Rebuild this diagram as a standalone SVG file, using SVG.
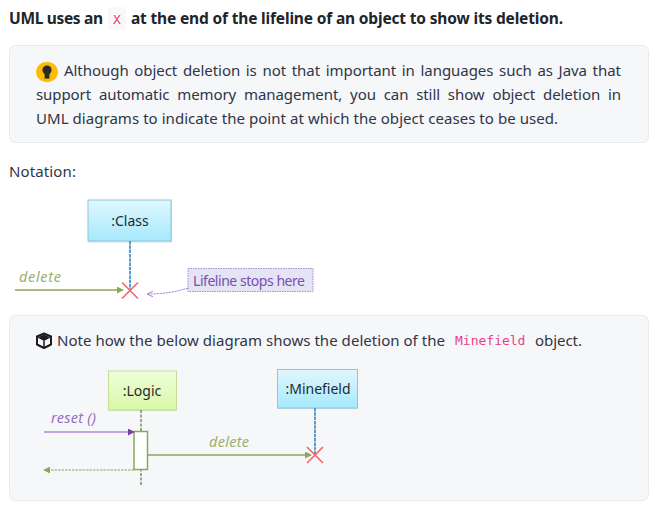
<svg xmlns="http://www.w3.org/2000/svg" width="665" height="520" viewBox="0 0 665 520">
<style>
text{font-family:"Noto Sans","Open Sans","Liberation Sans",sans-serif;font-size:15px;fill:#212529}
.b{font-size:15.5px;font-weight:700;fill:#212529}
.p{fill:#2f3547}
.code{font-family:"DejaVu Sans Mono","Liberation Mono",monospace;font-size:13px;fill:#e83e8c}
.panel{fill:#f6f7f9;stroke:#e8eaee;stroke-width:1}
.lbl{font-size:14px;fill:#1f2a33}
.msg{font-size:14.500px;font-style:italic}
.g{fill:#9bb06a}
.life{fill:none;stroke:#4a90c8;stroke-width:1.800;stroke-dasharray:3.500 .8}
.x{stroke:#f8666c;stroke-width:1.700;fill:none}
.gl{stroke:#8ea65a;stroke-width:1.300;fill:none}
.shadow{fill:#6f8f9f;opacity:.28}
</style>
<defs>
<linearGradient id="blue" x1="0" y1="0" x2="0" y2="1"><stop offset="0" stop-color="#e0f7ff"/><stop offset="1" stop-color="#a6e9fc"/></linearGradient>
<linearGradient id="green" x1="0" y1="0" x2="0" y2="1"><stop offset="0" stop-color="#effedb"/><stop offset="1" stop-color="#d8f8a6"/></linearGradient>
<marker id="ga" viewBox="0 0 8 8" refX="7" refY="4" markerWidth="7" markerHeight="7" markerUnits="userSpaceOnUse" orient="auto"><path d="M0 0L8 4L0 8Z" fill="#8ea65a"/></marker>
<marker id="pa" viewBox="0 0 8 8" refX="7" refY="4" markerWidth="7" markerHeight="7" markerUnits="userSpaceOnUse" orient="auto"><path d="M0 0L8 4L0 8Z" fill="#7b3fa8"/></marker>
<marker id="po" viewBox="0 0 8 8" refX="7" refY="4" markerWidth="6" markerHeight="6" markerUnits="userSpaceOnUse" orient="auto"><path d="M0 0L8 4L0 8" fill="none" stroke="#9c6cc8" stroke-width="1.200"/></marker>
</defs>
<rect width="665" height="520" fill="#fff"/>

<g id="heading">
<text x="9" y="24" class="b" textLength="94">UML uses an</text>
<rect x="108" y="7" width="18" height="23" rx="3" fill="#f8f8f9"/>
<text x="113" y="24" class="code">X</text>
<text x="131" y="24" class="b" textLength="432">at the end of the lifeline of an object to show its deletion.</text>
</g>

<g id="tip-panel">
<rect class="panel" x="9.500" y="45.500" width="639" height="97" rx="6"/>
<rect x="36" y="62" width="22" height="20" rx="10" fill="#fdbb05"/>
<circle cx="47" cy="70" r="4.600" fill="#2b2b2b"/>
<rect x="44.600" y="74" width="4.800" height="4.600" fill="#2b2b2b"/>
<text x="64" y="76" class="p" word-spacing="1.800" textLength="557">Although object deletion is not that important in languages such as Java that</text>
<text x="36" y="100" class="p" word-spacing="4" textLength="585">support automatic memory management, you can still show object deletion in</text>
<text x="36" y="124" class="p" textLength="522">UML diagrams to indicate the point at which the object ceases to be used.</text>
</g>

<text id="notation" x="9" y="177" class="p" textLength="67">Notation:</text>

<g id="class-node">
<rect class="shadow" x="88" y="201" width="84" height="41.500"/>
<rect x="88" y="200" width="83" height="41" fill="url(#blue)" stroke="#8cc6da"/>
<text x="130" y="226" text-anchor="middle" class="lbl">:Class</text>
</g>
<g id="note-node">
<rect x="188" y="268.500" width="125" height="23" fill="#e4e4f4" stroke="#a98ad0" stroke-dasharray="1.500 1"/>
<text x="193" y="286" style="font-size:14px;fill:#7a4fb0" textLength="112">Lifeline stops here</text>
</g>
<g id="notation-connectors">
<path class="life" d="M130 241V290"/>
<path class="gl" d="M15 290H123" marker-end="url(#ga)"/>
<path class="x" d="M122 282.500L138 298.500M138 282.500L122 298.500"/>
<path d="M188 288Q170 294 148 294" fill="none" stroke="#9c6cc8" stroke-width="1" stroke-dasharray="2 1" marker-end="url(#po)"/>
<text x="19" y="282" class="msg g" textLength="42">delete</text>
</g>

<g id="note-panel">
<rect class="panel" x="9.500" y="315.500" width="639" height="185" rx="6"/>
<path d="M44 333.500L51 336.500V344.500L44 348L37 344.500V336.500Z" fill="#f6f7f9" stroke="#1d1d1f" stroke-width="2" stroke-linejoin="round"/>
<path d="M44 341L37.500 337.500L44 334.500L50.500 337.500Z" fill="#1d1d1f"/>
<path d="M44 341V348" stroke="#1d1d1f" stroke-width="1.500"/>
<text x="57" y="346" class="p" textLength="388">Note how the below diagram shows the deletion of the</text>
<text x="455" y="345" class="code">Minefield</text>
<text x="535" y="346" class="p" textLength="47">object.</text>
</g>

<g id="logic-node">
<rect class="shadow" x="108.500" y="372" width="68.500" height="39"/>
<rect x="108.500" y="371" width="68" height="39" fill="url(#green)" stroke="#c4dc96"/>
<text x="142" y="396" text-anchor="middle" class="lbl">:Logic</text>
</g>
<g id="minefield-node">
<rect class="shadow" x="277.500" y="370.500" width="80.500" height="38.500"/>
<rect x="277.500" y="369.500" width="80" height="38.500" fill="url(#blue)" stroke="#8cc6da"/>
<text x="318" y="394" text-anchor="middle" class="lbl" textLength="65">:Minefield</text>
</g>
<g id="sequence-connectors">
<path d="M141 410V486" fill="none" stroke="#7d8a63" stroke-width="1.500" stroke-dasharray="3 1.500"/>
<rect x="134" y="431.500" width="13.500" height="38" fill="#fff" stroke="#8ea65a" stroke-width="1.500"/>
<path d="M44 432H134" fill="none" stroke="#b487d6" stroke-width="1.600" marker-end="url(#pa)"/>
<text x="51" y="423" class="msg" style="fill:#9a6cc4" textLength="45">reset ()</text>
<path d="M134 470H44" fill="none" stroke="#8ea65a" stroke-width="1.200" stroke-dasharray="2.500 1" marker-end="url(#ga)"/>
<path class="gl" d="M147.500 455H311" marker-end="url(#ga)"/>
<text x="209" y="447" class="msg g" textLength="40">delete</text>
<path class="life" d="M315 408V455"/>
<path class="x" d="M307 447L323 463M323 447L307 463"/>
</g>
</svg>
